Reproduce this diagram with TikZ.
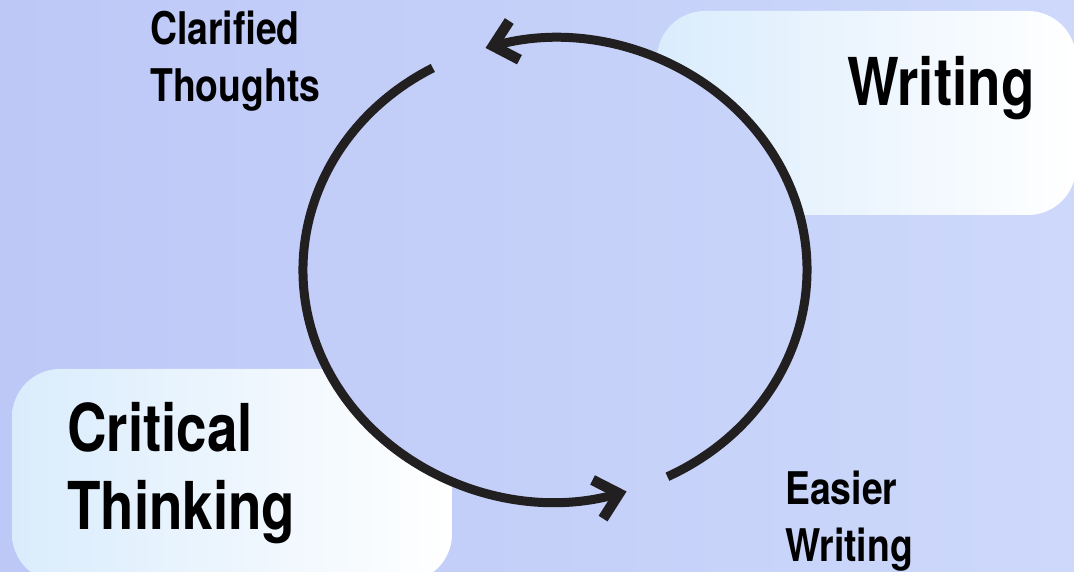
\documentclass[tikz,border=0pt]{standalone}
\usepackage{fontspec}
\newfontfamily\cond[FakeStretch=0.83]{TeX Gyre Heros}
\usetikzlibrary{arrows.meta,calc}
\definecolor{bgL}{RGB}{189,200,247}
\definecolor{bgR}{RGB}{205,216,251}
\definecolor{boxL}{RGB}{218,236,252}
\definecolor{boxR}{RGB}{255,255,255}
\definecolor{ink}{RGB}{34,31,32}
\tikzset{
  panel/.style={draw=none, rounded corners=48pt, left color=boxL, right color=boxR, inner sep=0pt},
  big/.style={font=\cond\bfseries\fontsize{66}{78}\selectfont, inner sep=0pt, anchor=base west},
  small/.style={font=\cond\bfseries\fontsize{45}{57}\selectfont, inner sep=0pt, anchor=base west},
  cyc/.style={line width=9pt, draw=ink, line cap=butt, -{Straight Barb[length=22pt, width=40pt, line width=10.5pt]}},
  bgshade/.style={left color=bgL, right color=bgR},
}
\begin{document}
\begin{tikzpicture}[x=1pt,y=1pt]
\useasboundingbox (0,0) rectangle (1074,572);
\shade[bgshade] (0,0) rectangle (1074,572);
% panels
\node[panel, minimum width=419pt, minimum height=204pt] (wbox) at (866.5,459) {};
\node[panel, minimum width=440pt, minimum height=213pt] (cbox) at (232,96.5) {};
% circle interior covers the panels
\coordinate (c) at (555,302);
\begin{scope}
  \clip (c) ellipse [x radius=252pt, y radius=231pt];
  \shade[bgshade] (0,0) rectangle (1074,572);
\end{scope}
% labels
\node[big] (writing) at (847,466) {Writing};
\node[big] (critical) at (67,120) {\begin{tabular}[t]{@{}l@{}}Critical\\Thinking\end{tabular}};
\node[small] (clarified) at (150,527) {\begin{tabular}[t]{@{}l@{}}Clarified\\Thoughts\end{tabular}};
\node[small] (easier) at (785,67) {\begin{tabular}[t]{@{}l@{}}Easier\\Writing\end{tabular}};
% cycle
\coordinate (s1) at ($(c)+(-63.5:252pt and 231pt)$);
\coordinate (s2) at ($(c)+(119:252pt and 231pt)$);
\draw[cyc] (s1) arc[start angle=-63.5, end angle=106, x radius=252pt, y radius=231pt];
\draw[cyc] (s2) arc[start angle=119, end angle=286.5, x radius=252pt, y radius=231pt];
\end{tikzpicture}
\end{document}
